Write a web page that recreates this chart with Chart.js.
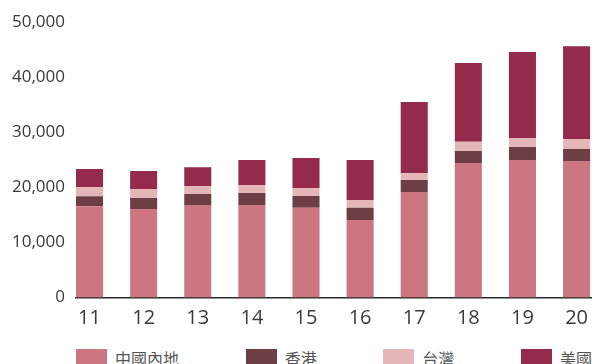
<!DOCTYPE html>
<html>
<head>
<meta charset="utf-8">
<script src="https://cdn.jsdelivr.net/npm/chart.js@4.4.1/dist/chart.umd.min.js"></script>
<style>
  body { margin: 0; background: #fff; overflow: hidden; }
  #wrap { position: relative; width: 592px; height: 364px; }
  #chartBox { position: absolute; left: 0; top: 0; width: 592px; height: 331px; }
  #legend {
    position: absolute; left: 76px; top: 349px; width: 516px;
    display: flex; justify-content: space-between;
    font-family: "Noto Sans CJK TC", "Noto Sans", sans-serif; font-size: 16px; color: #555;
  }
  .item { display: flex; align-items: center; height: 17px; white-space: nowrap; }
  .swatch { width: 31px; height: 17px; margin-right: 8px; }
</style>
</head>
<body>
<div id="wrap">
  <div id="chartBox"><canvas id="barChart"></canvas></div>
  <div id="legend"></div>
</div>
<script>
// Years (20xx) along the x axis
const years = ['11', '12', '13', '14', '15', '16', '17', '18', '19', '20'];

// Values per region
const mainland = [16600, 16100, 16800, 16800, 16300, 14100, 19200, 24450, 25000, 24800];
const hongKong = [1800, 2000, 2000, 2200, 2150, 2200, 2150, 2200, 2350, 2200];
const taiwan = [1650, 1650, 1450, 1450, 1450, 1450, 1300, 1650, 1650, 1800];
const usa = [3300, 3250, 3450, 4550, 5450, 7250, 12900, 14350, 15650, 16900];

const seriesNames = ['中國內地', '香港', '台灣', '美國'];
const seriesColors = ['#cc7682', '#6d3f44', '#e5b6b8', '#942b4c'];
const seriesData = [mainland, hongKong, taiwan, usa];

const yTicks = [0, 10000, 20000, 30000, 40000, 50000];

const tickFont = { family: "'Open Sans', sans-serif" };

const ctx = document.getElementById('barChart').getContext('2d');
const chart = new Chart(ctx, {
  type: 'bar',
  data: {
    labels: years,
    datasets: seriesNames.map((name, i) => ({
      label: name,
      data: seriesData[i],
      backgroundColor: seriesColors[i],
      borderWidth: 0,
      categoryPercentage: 1,
      barPercentage: 0.5
    }))
  },
  options: {
    responsive: true,
    maintainAspectRatio: false,
    animation: false,
    layout: { padding: { top: 22.5, left: 0, right: 0, bottom: 0 } },
    plugins: {
      legend: { display: false },
      tooltip: { enabled: false }
    },
    scales: {
      x: {
        type: 'linear',
        stacked: true,
        offset: false,
        min: 10.75,
        max: 20.285,
        grid: { display: false, drawTicks: false, offset: false },
        border: { display: true, color: '#2a2a2a', width: 1.5 },
        ticks: {
          color: '#3a3a3a',
          font: { ...tickFont, size: 20 },
          padding: 9,
          maxRotation: 0
        },
        // one tick per year
        afterBuildTicks: (axis) => {
          axis.ticks = years.map(y => ({ value: Number(y) }));
        },
        afterFit: (axis) => {
          axis.height = 33.5;
          axis.paddingLeft = 0;
          axis.paddingRight = 0;
        }
      },
      y: {
        stacked: true,
        min: yTicks[0],
        max: yTicks[yTicks.length - 1],
        grid: { display: false, drawTicks: false },
        border: { display: false },
        ticks: {
          stepSize: 10000,
          color: '#3a3a3a',
          font: { ...tickFont, size: 17 },
          padding: 11
        },
        afterFit: (axis) => {
          axis.width = 76;
          axis.paddingTop = 0;
          axis.paddingBottom = 0;
        }
      }
    }
  }
});

// Legend built from the datasets
const legendEl = document.getElementById('legend');
chart.data.datasets.forEach(ds => {
  const item = document.createElement('div');
  item.className = 'item';
  const swatch = document.createElement('span');
  swatch.className = 'swatch';
  swatch.style.background = ds.backgroundColor;
  const text = document.createElement('span');
  text.textContent = ds.label;
  item.appendChild(swatch);
  item.appendChild(text);
  legendEl.appendChild(item);
});
</script>
</body>
</html>
